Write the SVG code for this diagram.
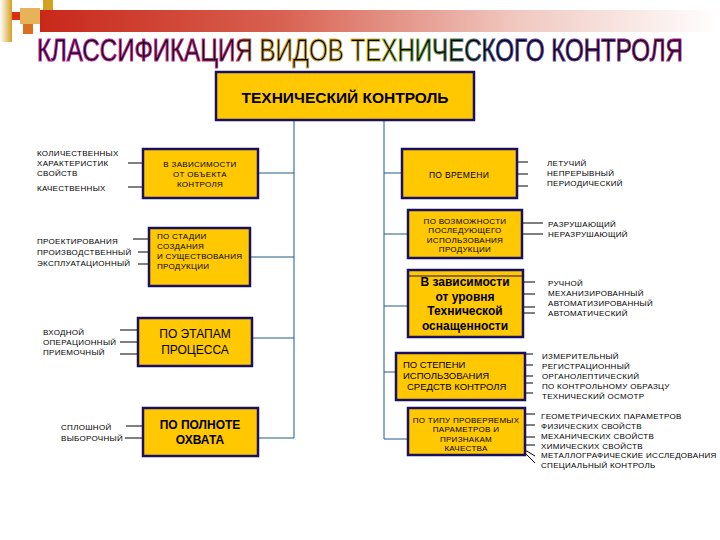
<svg xmlns="http://www.w3.org/2000/svg" width="720" height="540" viewBox="0 0 720 540">
<defs>
<linearGradient id="bar" x1="0" y1="0" x2="1" y2="0">
<stop offset="0" stop-color="#c8281a"/>
<stop offset="0.35" stop-color="#d86050"/>
<stop offset="0.7" stop-color="#f0c8c0"/>
<stop offset="1" stop-color="#ffffff"/>
</linearGradient>
<linearGradient id="gold" x1="0" y1="0" x2="1" y2="0">
<stop offset="0" stop-color="#ffffff"/>
<stop offset="1" stop-color="#d4a020"/>
</linearGradient>
<linearGradient id="title" x1="0" y1="0" x2="646" y2="0" gradientUnits="userSpaceOnUse">
<stop offset="0" stop-color="#c020b0"/>
<stop offset="0.3" stop-color="#c02880"/>
<stop offset="0.36" stop-color="#d0a030"/>
<stop offset="0.5" stop-color="#e0c040"/>
<stop offset="0.6" stop-color="#60a030"/>
<stop offset="0.72" stop-color="#4040a0"/>
<stop offset="1" stop-color="#b02090"/>
</linearGradient>
<style>
.box{fill:#ffc800;stroke:#1a1060;stroke-width:2.5}
.conn{stroke:#1f5a86;stroke-width:1;fill:none}
.tick{stroke:#000;stroke-width:1;fill:none}
.t{font-family:"Liberation Sans",Arial,sans-serif;fill:#000}
.s{font-size:8px;letter-spacing:0.3px}
.m{font-size:8.5px;letter-spacing:0.3px}
.c{text-anchor:middle}
</style>
</defs>
<rect width="720" height="540" fill="#ffffff"/>
<!-- header decoration -->
<rect x="40" y="10" width="680" height="22" fill="url(#bar)"/>
<rect x="0" y="0" width="12" height="42" fill="url(#gold)"/>
<rect x="12" y="12" width="8" height="8" fill="#d83018"/>
<rect x="20" y="8" width="20" height="16" fill="#e0a030" opacity="0.8"/>
<rect x="43" y="0" width="10" height="10" fill="#d4a020"/>
<rect x="23" y="24" width="10" height="10" fill="#d87020"/>
<text transform="translate(37,61) scale(1,1.28)" x="0" y="0" class="t" font-size="24" textLength="646" lengthAdjust="spacingAndGlyphs" fill="#ffffff" stroke="url(#title)" stroke-width="0.8">КЛАССИФИКАЦИЯ ВИДОВ ТЕХНИЧЕСКОГО КОНТРОЛЯ</text>

<g id="connectors">
<path class="conn" d="M294 120V438M384 120V439M258 173H294M250 257H294M252 338H294M258 438H294M384 173H402M384 234H408M384 306H408M384 372H396M384 439H408"/>
<path class="tick" d="M128 163H143M128 187H143M133 239H149M138 252H149M138 264H149M120 330H138M120 342H138M120 354H138M126 426H143M125 438H143"/>
<path class="tick" d="M517 162H528M517 174H528M517 186H528M522 223H543M522 234H543M523 282H535M523 294H535M523 307H535M523 313H535M525 354H533M525 365H533M525 376H533M525 383H533M525 393H533M525 414H535M525 425H535M525 437H535M525 445H535M525 450L535 456M525 453L535 463"/>
</g>

<g id="root">
<rect class="box" x="216" y="72" width="258" height="48"/>
<text x="345" y="103" class="t c" font-size="15.5" font-weight="bold">ТЕХНИЧЕСКИЙ КОНТРОЛЬ</text>
</g>

<g id="l1">
<rect class="box" x="143" y="149" width="115" height="49"/>
<text class="t s c" x="200"><tspan x="200" y="167">В ЗАВИСИМОСТИ</tspan><tspan x="200" y="177">ОТ ОБЪЕКТА</tspan><tspan x="200" y="187">КОНТРОЛЯ</tspan></text>
<text class="t s"><tspan x="37" y="156">КОЛИЧЕСТВЕННЫХ</tspan><tspan x="37" y="166">ХАРАКТЕРИСТИК</tspan><tspan x="37" y="176">СВОЙСТВ</tspan><tspan x="37" y="191">КАЧЕСТВЕННЫХ</tspan></text>
</g>

<g id="l2">
<rect class="box" x="149" y="228" width="101" height="58"/>
<text class="t s"><tspan x="157" y="239">ПО СТАДИИ</tspan><tspan x="157" y="249">СОЗДАНИЯ</tspan><tspan x="157" y="259">И СУЩЕСТВОВАНИЯ</tspan><tspan x="157" y="269">ПРОДУКЦИИ</tspan></text>
<text class="t s"><tspan x="37" y="244">ПРОЕКТИРОВАНИЯ</tspan><tspan x="37" y="255">ПРОИЗВОДСТВЕННЫЙ</tspan><tspan x="37" y="266">ЭКСПЛУАТАЦИОННЫЙ</tspan></text>
</g>

<g id="l3">
<rect class="box" x="138" y="318" width="114" height="48"/>
<text class="t c" font-size="12"><tspan x="195" y="338">ПО ЭТАПАМ</tspan><tspan x="195" y="354">ПРОЦЕССА</tspan></text>
<text class="t s"><tspan x="43" y="335">ВХОДНОЙ</tspan><tspan x="43" y="345">ОПЕРАЦИОННЫЙ</tspan><tspan x="43" y="355">ПРИЕМОЧНЫЙ</tspan></text>
</g>

<g id="l4">
<rect class="box" x="143" y="408" width="115" height="48"/>
<text class="t c" font-size="12" font-weight="bold"><tspan x="200" y="429">ПО ПОЛНОТЕ</tspan><tspan x="200" y="444">ОХВАТА</tspan></text>
<text class="t s"><tspan x="61" y="430">СПЛОШНОЙ</tspan><tspan x="61" y="441">ВЫБОРОЧНЫЙ</tspan></text>
</g>

<g id="r1">
<rect class="box" x="402" y="149" width="115" height="49"/>
<text class="t m c" x="459" y="178">ПО ВРЕМЕНИ</text>
<text class="t s"><tspan x="547" y="166">ЛЕТУЧИЙ</tspan><tspan x="547" y="176">НЕПРЕРЫВНЫЙ</tspan><tspan x="547" y="186">ПЕРИОДИЧЕСКИЙ</tspan></text>
</g>

<g id="r2">
<rect class="box" x="408" y="210" width="114" height="48"/>
<text class="t s c"><tspan x="465" y="224">ПО ВОЗМОЖНОСТИ</tspan><tspan x="465" y="233">ПОСЛЕДУЮЩЕГО</tspan><tspan x="465" y="243">ИСПОЛЬЗОВАНИЯ</tspan><tspan x="465" y="252">ПРОДУКЦИИ</tspan></text>
<text class="t s"><tspan x="548" y="227">РАЗРУШАЮЩИЙ</tspan><tspan x="548" y="237">НЕРАЗРУШАЮЩИЙ</tspan></text>
</g>

<g id="r3">
<rect class="box" x="408" y="270" width="115" height="67"/>
<line x1="409" y1="276" x2="522" y2="276" stroke="#1a1060" stroke-width="1"/>
<text class="t c" font-size="12" font-weight="bold"><tspan x="465" y="286">В зависимости</tspan><tspan x="465" y="301">от уровня</tspan><tspan x="465" y="315">Технической</tspan><tspan x="465" y="330">оснащенности</tspan></text>
<text class="t s"><tspan x="548" y="286">РУЧНОЙ</tspan><tspan x="548" y="296">МЕХАНИЗИРОВАННЫЙ</tspan><tspan x="548" y="306">АВТОМАТИЗИРОВАННЫЙ</tspan><tspan x="548" y="316">АВТОМАТИЧЕСКИЙ</tspan></text>
</g>

<g id="r4">
<rect class="box" x="396" y="353" width="129" height="47"/>
<text class="t" font-size="9.5"><tspan x="403" y="368">ПО СТЕПЕНИ</tspan><tspan x="403" y="379">ИСПОЛЬЗОВАНИЯ</tspan><tspan x="407" y="390">СРЕДСТВ КОНТРОЛЯ</tspan></text>
<text class="t s"><tspan x="542" y="359">ИЗМЕРИТЕЛЬНЫЙ</tspan><tspan x="542" y="369">РЕГИСТРАЦИОННЫЙ</tspan><tspan x="542" y="379">ОРГАНОЛЕПТИЧЕСКИЙ</tspan><tspan x="542" y="389">ПО КОНТРОЛЬНОМУ ОБРАЗЦУ</tspan><tspan x="542" y="399">ТЕХНИЧЕСКИЙ ОСМОТР</tspan></text>
</g>

<g id="r5">
<rect class="box" x="408" y="408" width="117" height="47"/>
<text class="t s c"><tspan x="466" y="423">ПО ТИПУ ПРОВЕРЯЕМЫХ</tspan><tspan x="466" y="432">ПАРАМЕТРОВ И</tspan><tspan x="466" y="442">ПРИЗНАКАМ</tspan><tspan x="466" y="451">КАЧЕСТВА</tspan></text>
<text class="t s"><tspan x="541" y="419">ГЕОМЕТРИЧЕСКИХ ПАРАМЕТРОВ</tspan><tspan x="541" y="429">ФИЗИЧЕСКИХ СВОЙСТВ</tspan><tspan x="541" y="439">МЕХАНИЧЕСКИХ СВОЙСТВ</tspan><tspan x="541" y="449">ХИМИЧЕСКИХ СВОЙСТВ</tspan><tspan x="541" y="458">МЕТАЛЛОГРАФИЧЕСКИЕ ИССЛЕДОВАНИЯ</tspan><tspan x="541" y="468">СПЕЦИАЛЬНЫЙ КОНТРОЛЬ</tspan></text>
</g>
</svg>
